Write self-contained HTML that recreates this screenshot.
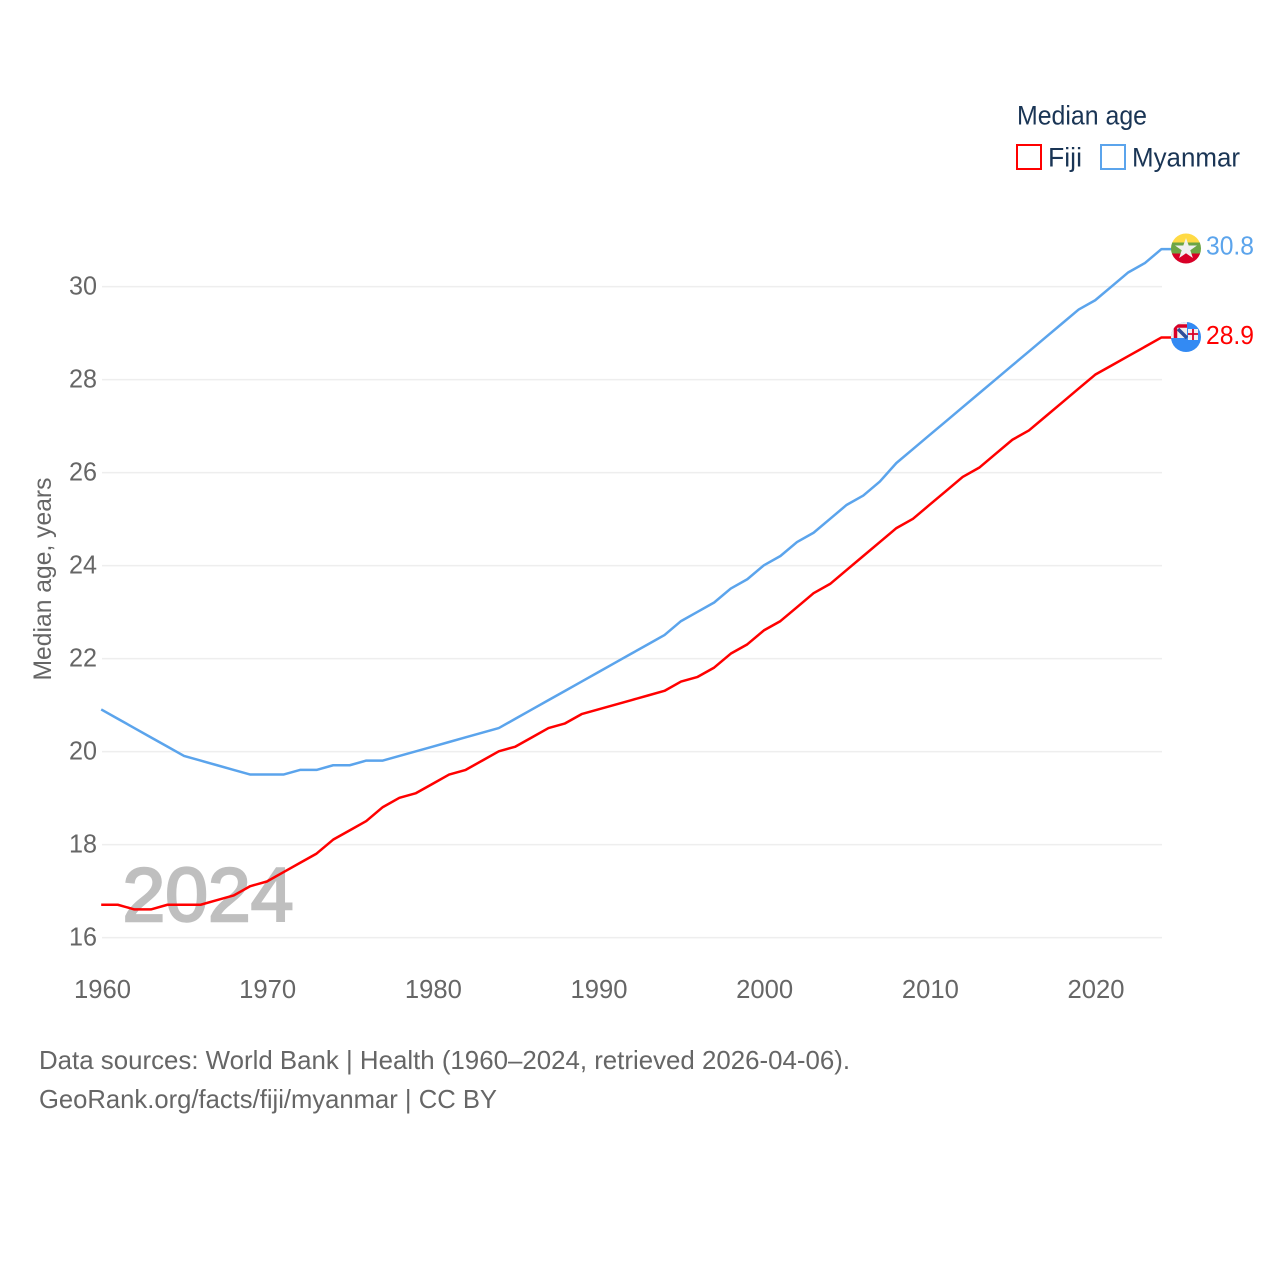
<!DOCTYPE html>
<html lang="en">
<head>
<meta charset="utf-8">
<title>Median age: Fiji and Myanmar</title>
<style>
html,body{margin:0;padding:0;background:#fff;width:1280px;height:1280px;overflow:hidden}
svg{display:block}
text{font-family:"Liberation Sans",sans-serif}
</style>
</head>
<body>
<svg id="chart" width="1280" height="1280" viewBox="0 0 1280 1280" xmlns="http://www.w3.org/2000/svg">
  <defs>
    <clipPath id="clip-mm"><circle cx="1186" cy="248.500" r="15"/></clipPath>
    <clipPath id="clip-fj"><circle cx="1186" cy="337" r="15"/></clipPath>
  </defs>
  <g id="grid"></g>
  <text x="122.500" y="921" font-size="76" font-weight="400" fill="#bfbfbf" stroke="#bfbfbf" stroke-width="2.400" textLength="171" lengthAdjust="spacingAndGlyphs">2024</text>
  <g id="xticks"></g>
  <g id="yticks"></g>
  <text transform="translate(51,579) rotate(-90)" text-anchor="middle" font-size="25" fill="#666" textLength="203" lengthAdjust="spacingAndGlyphs">Median age, years</text>
  <g id="series"></g>

  <g clip-path="url(#clip-mm)">
    <rect x="1170" y="232" width="32" height="11" fill="#ffda44"/>
    <rect x="1170" y="242.500" width="32" height="11" fill="#6da544"/>
    <rect x="1170" y="253.500" width="32" height="11" fill="#d80027"/>
    <polygon points="1186,238 1188.700,245.500 1197,245.500 1190.300,250.300 1192.900,258 1186,253.300 1179.100,258 1181.700,250.300 1175,245.500 1183.300,245.500" fill="#f0f0f0"/>
  </g>
  <g clip-path="url(#clip-fj)">
    <rect x="1170" y="321" width="32" height="32" fill="#338af3"/>
    <rect x="1170" y="321" width="17" height="17" fill="#f0f0f0"/>
    <path d="M1175.500 338V326H1187" stroke="#d80027" stroke-width="3.500" fill="none"/>
    <path d="M1178 329L1187 338" stroke="#2f4f9a" stroke-width="3.500"/>
    <rect x="1188" y="329" width="10" height="11" fill="#f0f0f0"/>
    <path d="M1193 329V340M1188 334H1198" stroke="#d80027" stroke-width="1.800"/>
  </g>
  <text x="1206" y="254.500" font-size="26" fill="#5ba4ec" textLength="48" lengthAdjust="spacingAndGlyphs">30.8</text>
  <text x="1206" y="344" font-size="26" fill="#ff0000" textLength="48" lengthAdjust="spacingAndGlyphs">28.9</text>

  <g>
    <text x="1017" y="124.500" font-size="27" fill="#1a3555" textLength="130" lengthAdjust="spacingAndGlyphs">Median age</text>
    <rect x="1017" y="145" width="24" height="24" fill="#fff" stroke="#ff0000" stroke-width="2"/>
    <text x="1048" y="166.500" font-size="27" fill="#1a3555" textLength="34" lengthAdjust="spacingAndGlyphs">Fiji</text>
    <rect x="1101" y="145" width="24" height="24" fill="#fff" stroke="#5ba4ec" stroke-width="2"/>
    <text x="1132" y="166.500" font-size="27" fill="#1a3555" textLength="108" lengthAdjust="spacingAndGlyphs">Myanmar</text>
  </g>

  <text x="39" y="1069" font-size="26" fill="#666" textLength="811" lengthAdjust="spacingAndGlyphs">Data sources: World Bank | Health (1960–2024, retrieved 2026-04-06).</text>
  <text x="39" y="1108" font-size="26" fill="#666" textLength="458" lengthAdjust="spacingAndGlyphs">GeoRank.org/facts/fiji/myanmar | CC BY</text>
</svg>
<script>
const years = [1960,1961,1962,1963,1964,1965,1966,1967,1968,1969,1970,1971,1972,1973,1974,1975,1976,1977,1978,1979,1980,1981,1982,1983,1984,1985,1986,1987,1988,1989,1990,1991,1992,1993,1994,1995,1996,1997,1998,1999,2000,2001,2002,2003,2004,2005,2006,2007,2008,2009,2010,2011,2012,2013,2014,2015,2016,2017,2018,2019,2020,2021,2022,2023,2024];
const fijiValues = [16.7,16.7,16.6,16.6,16.7,16.7,16.7,16.8,16.9,17.1,17.2,17.4,17.6,17.8,18.1,18.3,18.5,18.8,19.0,19.1,19.3,19.5,19.6,19.8,20.0,20.1,20.3,20.5,20.6,20.8,20.9,21.0,21.1,21.2,21.3,21.5,21.6,21.8,22.1,22.3,22.6,22.8,23.1,23.4,23.6,23.9,24.2,24.5,24.8,25.0,25.3,25.6,25.9,26.1,26.4,26.7,26.9,27.2,27.5,27.8,28.1,28.3,28.5,28.7,28.9];
const myanmarValues = [20.9,20.7,20.5,20.3,20.1,19.9,19.8,19.7,19.6,19.5,19.5,19.5,19.6,19.6,19.7,19.7,19.8,19.8,19.9,20.0,20.1,20.2,20.3,20.4,20.5,20.7,20.9,21.1,21.3,21.5,21.7,21.9,22.1,22.3,22.5,22.8,23.0,23.2,23.5,23.7,24.0,24.2,24.5,24.7,25.0,25.3,25.5,25.8,26.2,26.5,26.8,27.1,27.4,27.7,28.0,28.3,28.6,28.9,29.2,29.5,29.7,30.0,30.3,30.5,30.8];
const xTickLabels = [1960,1970,1980,1990,2000,2010,2020];
const yTickLabels = [16,18,20,22,24,26,28,30];

const NS = 'http://www.w3.org/2000/svg';
function xScale(year){ return 101.2 + (year - 1960) * (1095.2 - 101.2) / 60; }
function yScale(value){ return 937.3 - (value - 16) * (937.3 - 286.3) / 14; }

const grid = document.getElementById('grid');
const yticks = document.getElementById('yticks');
const xticks = document.getElementById('xticks');
const series = document.getElementById('series');

yTickLabels.forEach(function(v){
  const line = document.createElementNS(NS, 'line');
  
  
  line.setAttribute('x1', 102);
  line.setAttribute('x2', 1162);
  line.setAttribute('y1', yScale(v) + 0.3);
  line.setAttribute('y2', yScale(v) + 0.3);
  line.setAttribute('stroke', '#eeeeee');
  line.setAttribute('stroke-width', '1.5');
  grid.appendChild(line);

  const t = document.createElementNS(NS, 'text');
  
  
  t.setAttribute('x', 97);
  t.setAttribute('y', yScale(v) + 8.2);
  t.setAttribute('text-anchor', 'end');
  t.setAttribute('font-size', '26');
  t.setAttribute('fill', '#666');
  t.setAttribute('textLength', '28');
  t.setAttribute('lengthAdjust', 'spacingAndGlyphs');
  t.textContent = v;
  yticks.appendChild(t);
});

xTickLabels.forEach(function(y){
  const t = document.createElementNS(NS, 'text');
  
  
  t.setAttribute('x', y === 1960 ? 74 : xScale(y) + 0.8);
  t.setAttribute('y', 998);
  t.setAttribute('text-anchor', y === 1960 ? 'start' : 'middle');
  t.setAttribute('font-size', '26');
  t.setAttribute('fill', '#666');
  t.setAttribute('textLength', '57');
  t.setAttribute('lengthAdjust', 'spacingAndGlyphs');
  t.textContent = y;
  xticks.appendChild(t);
});

function drawLine(values, color, name){
  const pts = values.map(function(v, i){ return xScale(years[i]).toFixed(2) + ',' + yScale(v).toFixed(2); });
  const last = values[values.length - 1];
  pts.push((xScale(years[years.length - 1]) + 10).toFixed(2) + ',' + yScale(last).toFixed(2));
  const p = document.createElementNS(NS, 'polyline');
  
  
  p.setAttribute('points', pts.join(' '));
  p.setAttribute('fill', 'none');
  p.setAttribute('stroke', color);
  p.setAttribute('stroke-width', '2.500');
  p.setAttribute('stroke-linejoin', 'round');
  series.appendChild(p);
}
drawLine(myanmarValues, '#5ba4ec', 'myanmar-line');
drawLine(fijiValues, '#ff0000', 'fiji-line');
</script>
</body>
</html>
